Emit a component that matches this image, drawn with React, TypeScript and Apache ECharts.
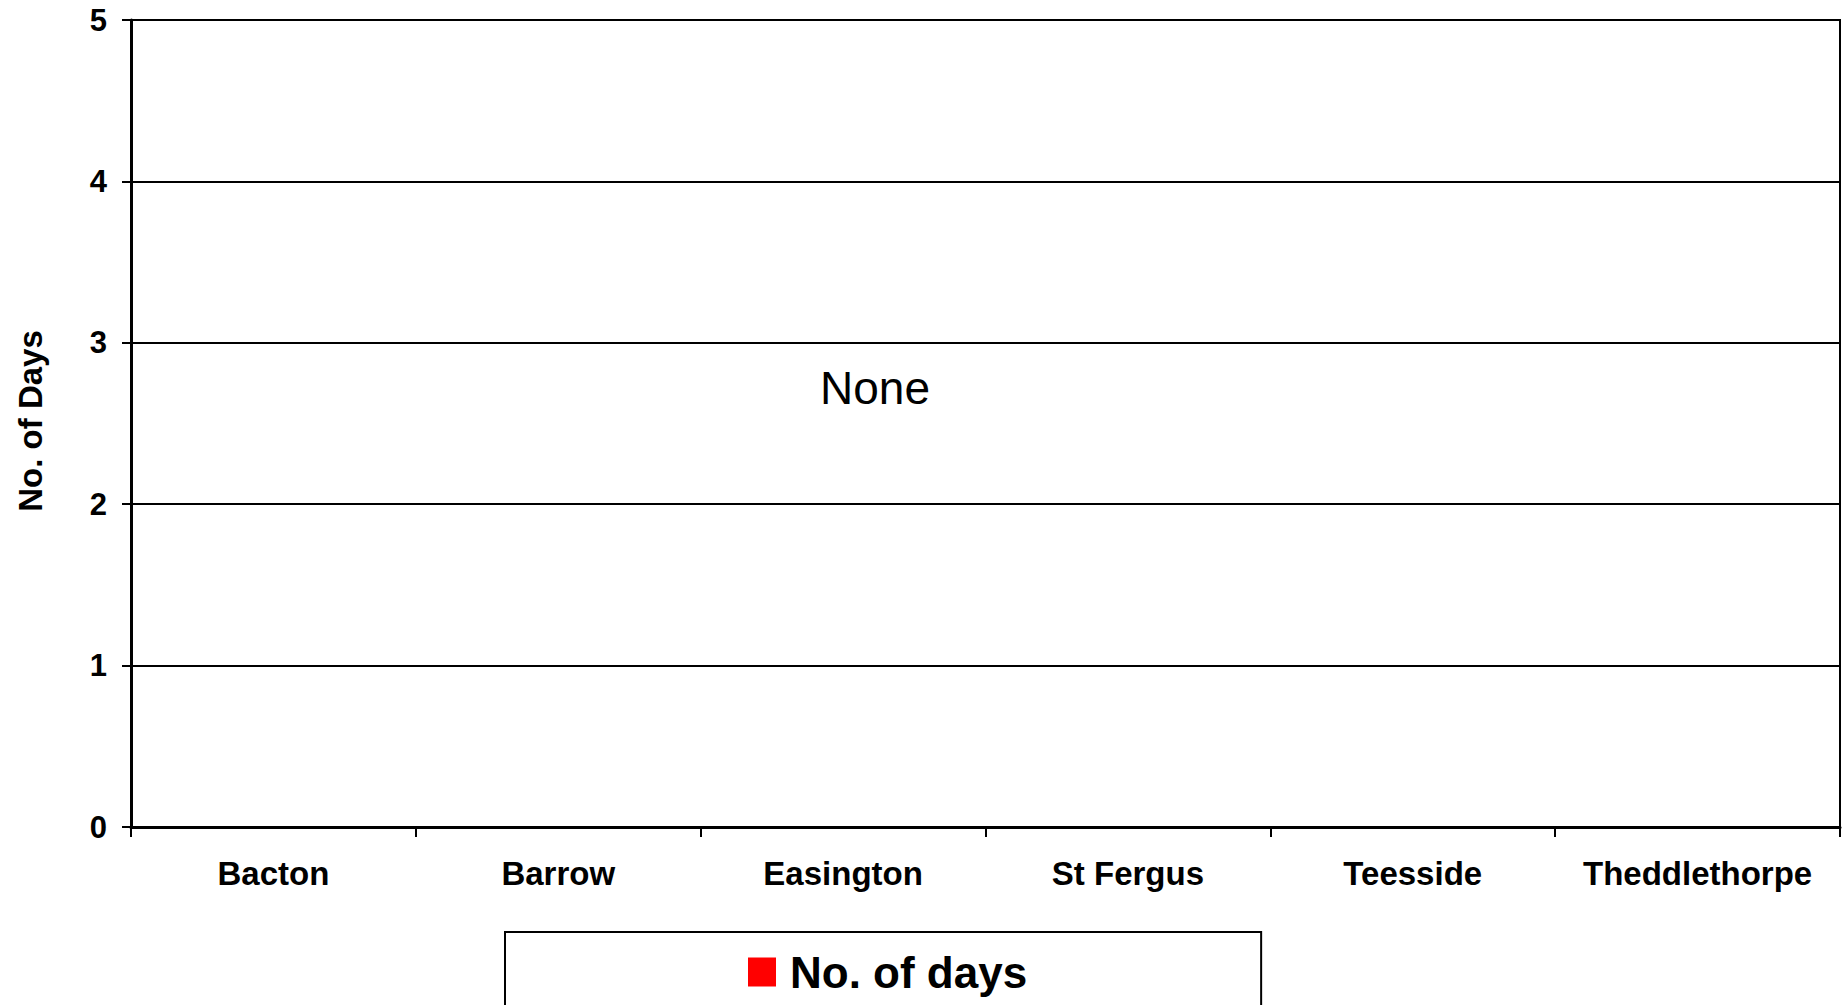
import React, { useEffect, useRef } from "react";
import * as echarts from "echarts";

const categories = ["Bacton", "Barrow", "Easington", "St Fergus", "Teesside", "Theddlethorpe"];
const daysValues = [0, 0, 0, 0, 0, 0];
const seriesName = "No. of days";
const yAxisName = "No. of Days";
const annotation = "None";

const FONT = "'Liberation Sans', Arial, Helvetica, sans-serif";

export default function App() {
  const ref = useRef<HTMLDivElement>(null);
  useEffect(() => {
    if (!ref.current) return;
    const chart = echarts.init(ref.current, null, { renderer: "svg" });
    chart.setOption({
      animation: false,
      backgroundColor: "#ffffff",
      textStyle: { fontFamily: FONT },
      grid: {
        left: 131,
        top: 20,
        right: 8,
        bottom: 178,
        outerBoundsMode: "none",
        containLabel: false,
        show: true,
        borderColor: "#000",
        borderWidth: 2,
        backgroundColor: "transparent",
      },
      legend: {
        data: [seriesName],
        left: 505,
        top: 932,
        icon: "rect",
        itemWidth: 28,
        itemHeight: 29,
        padding: [18, 234, 60, 243],
        borderColor: "#000",
        borderWidth: 2,
        textStyle: {
          fontFamily: FONT,
          fontSize: 44,
          fontWeight: "bold",
          color: "#000",
          padding: [0, 0, 0, 9],
        },
      },
      xAxis: {
        type: "category",
        data: categories,
        boundaryGap: true,
        axisLine: { show: true, lineStyle: { color: "#000", width: 3 } },
        axisTick: { show: true, length: 10, lineStyle: { color: "#000", width: 2 } },
        axisLabel: {
          interval: 0,
          margin: 30,
          fontFamily: FONT,
          fontSize: 33,
          fontWeight: "bold",
          color: "#000",
        },
        splitLine: { show: false },
      },
      yAxis: {
        type: "value",
        min: 0,
        max: 5,
        interval: 1,
        name: yAxisName,
        nameLocation: "middle",
        nameRotate: 90,
        nameGap: 84,
        nameTextStyle: { fontFamily: FONT, fontSize: 33, fontWeight: "bold", color: "#000", padding: [0, 0, 0, 5] },
        axisLine: { show: true, lineStyle: { color: "#000", width: 3 } },
        axisTick: { show: true, length: 9, lineStyle: { color: "#000", width: 2 } },
        axisLabel: {
          margin: 24,
          fontFamily: FONT,
          fontSize: 31,
          fontWeight: "bold",
          color: "#000",
        },
        splitLine: { show: true, lineStyle: { color: "#000", width: 2 } },
      },
      series: [
        {
          name: seriesName,
          type: "bar",
          data: daysValues,
          itemStyle: { color: "#ff0000" },
          barWidth: "50%",
        },
      ],
      graphic: [
        {
          type: "text",
          left: 820,
          top: 365,
          style: {
            text: annotation,
            fontFamily: FONT,
            fontSize: 46,
            fill: "#000",
          },
        },
      ],
    });
    return () => chart.dispose();
  }, []);
  return (
    <div
      ref={ref}
      style={{ position: "fixed", left: 0, top: 0, width: 1848, height: 1005, background: "#fff" }}
    />
  );
}
